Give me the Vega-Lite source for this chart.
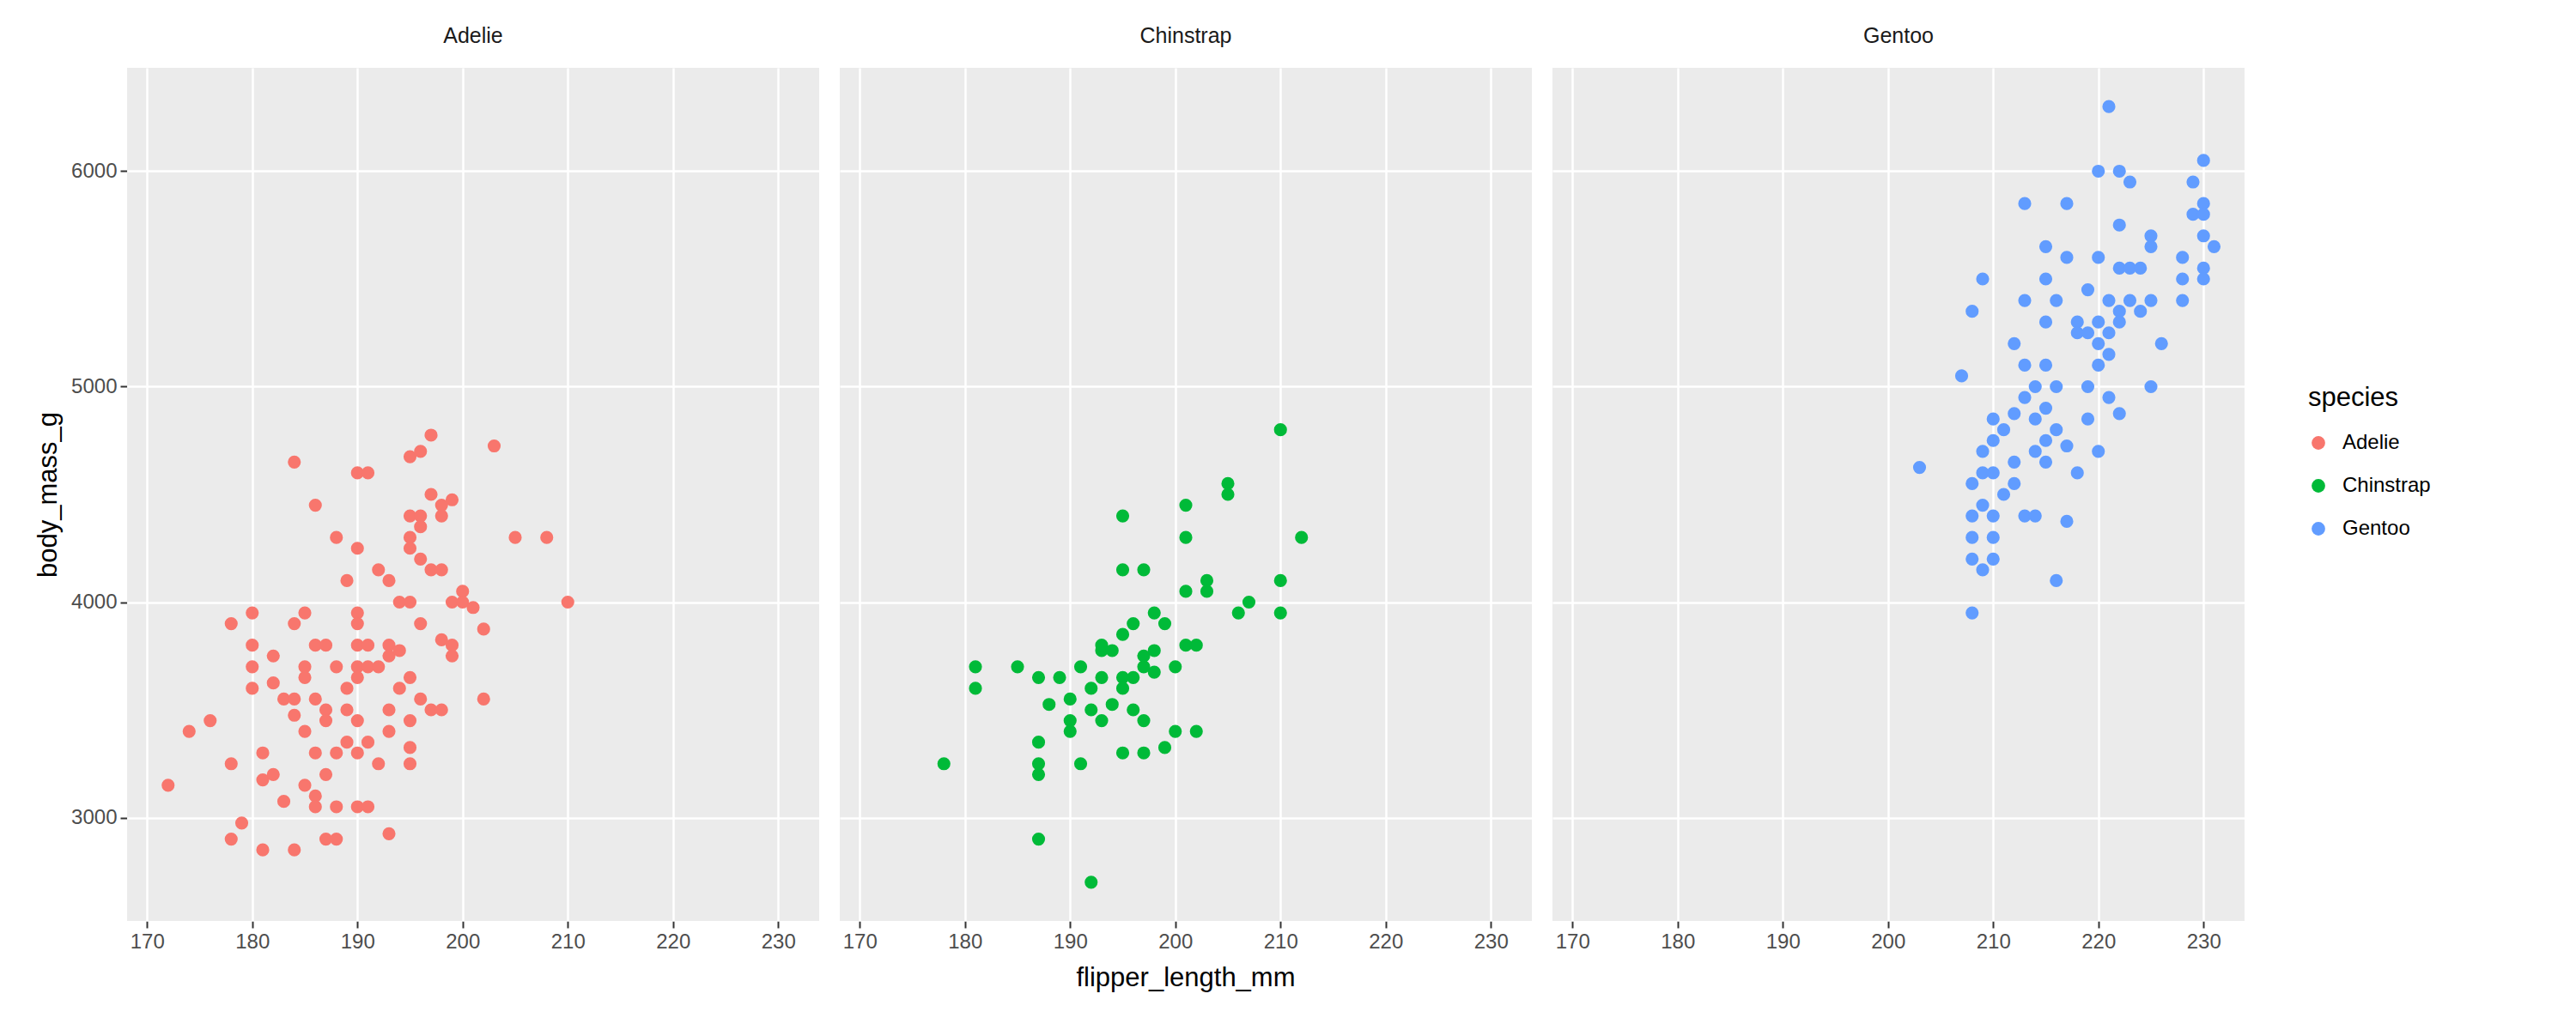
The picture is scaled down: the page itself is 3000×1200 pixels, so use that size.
{
"$schema":"https://vega.github.io/schema/vega-lite/v6.json",
"background":"white",
"padding":{"left":40,"top":30,"right":20,"bottom":10},
"config":{"font":"Liberation Sans","view":{"fill":"#EBEBEB","stroke":null},
"axis":{"gridColor":"white","gridWidth":2.5,"domain":false,"tickColor":"#333333","tickSize":8,"tickWidth":2,"labelFontSize":24,"labelColor":"#4D4D4D","titleFontSize":31,"titleFontWeight":"normal","titleColor":"black","labelPadding":4},
"legend":{"titleFontSize":31,"titleFontWeight":"normal","labelFontSize":24,"symbolSize":250,"rowPadding":26,"symbolStrokeWidth":0,"titlePadding":24,"labelOffset":16},
"facet":{"spacing":24}},
"datasets":{"d":[
{"s":"Adelie","f":172,"m":3150},{"s":"Adelie","f":174,"m":3400},{"s":"Adelie","f":176,"m":3450},{"s":"Adelie","f":178,"m":3900},{"s":"Adelie","f":178,"m":3250},{"s":"Adelie","f":178,"m":2900},{"s":"Adelie","f":179,"m":2975},{"s":"Adelie","f":180,"m":3950},{"s":"Adelie","f":180,"m":3800},{"s":"Adelie","f":180,"m":3700},{"s":"Adelie","f":180,"m":3600},{"s":"Adelie","f":181,"m":3300},{"s":"Adelie","f":181,"m":2850},{"s":"Adelie","f":181,"m":3175},{"s":"Adelie","f":182,"m":3200},{"s":"Adelie","f":182,"m":3750},{"s":"Adelie","f":182,"m":3625},{"s":"Adelie","f":183,"m":3075},{"s":"Adelie","f":183,"m":3550},{"s":"Adelie","f":184,"m":4650},{"s":"Adelie","f":184,"m":3900},{"s":"Adelie","f":184,"m":3475},{"s":"Adelie","f":184,"m":2850},{"s":"Adelie","f":184,"m":3550},{"s":"Adelie","f":185,"m":3700},{"s":"Adelie","f":185,"m":3950},{"s":"Adelie","f":185,"m":3650},{"s":"Adelie","f":185,"m":3150},{"s":"Adelie","f":185,"m":3400},{"s":"Adelie","f":186,"m":4450},{"s":"Adelie","f":186,"m":3800},{"s":"Adelie","f":186,"m":3550},{"s":"Adelie","f":186,"m":3300},{"s":"Adelie","f":186,"m":3100},{"s":"Adelie","f":186,"m":3050},{"s":"Adelie","f":187,"m":3800},{"s":"Adelie","f":187,"m":3500},{"s":"Adelie","f":187,"m":3450},{"s":"Adelie","f":187,"m":3200},{"s":"Adelie","f":187,"m":2900},{"s":"Adelie","f":188,"m":4300},{"s":"Adelie","f":188,"m":3700},{"s":"Adelie","f":188,"m":3300},{"s":"Adelie","f":188,"m":3050},{"s":"Adelie","f":188,"m":2900},{"s":"Adelie","f":189,"m":4100},{"s":"Adelie","f":189,"m":3600},{"s":"Adelie","f":189,"m":3500},{"s":"Adelie","f":189,"m":3350},{"s":"Adelie","f":190,"m":4600},{"s":"Adelie","f":190,"m":4250},{"s":"Adelie","f":190,"m":3950},{"s":"Adelie","f":190,"m":3900},{"s":"Adelie","f":190,"m":3800},{"s":"Adelie","f":190,"m":3700},{"s":"Adelie","f":190,"m":3650},{"s":"Adelie","f":190,"m":3450},{"s":"Adelie","f":190,"m":3300},{"s":"Adelie","f":190,"m":3050},{"s":"Adelie","f":191,"m":4600},{"s":"Adelie","f":191,"m":3800},{"s":"Adelie","f":191,"m":3700},{"s":"Adelie","f":191,"m":3350},{"s":"Adelie","f":191,"m":3050},{"s":"Adelie","f":192,"m":4150},{"s":"Adelie","f":192,"m":3700},{"s":"Adelie","f":192,"m":3250},{"s":"Adelie","f":193,"m":4100},{"s":"Adelie","f":193,"m":3800},{"s":"Adelie","f":193,"m":3750},{"s":"Adelie","f":193,"m":3500},{"s":"Adelie","f":193,"m":3400},{"s":"Adelie","f":193,"m":2925},{"s":"Adelie","f":194,"m":4000},{"s":"Adelie","f":194,"m":3775},{"s":"Adelie","f":194,"m":3600},{"s":"Adelie","f":195,"m":4400},{"s":"Adelie","f":195,"m":4300},{"s":"Adelie","f":195,"m":4250},{"s":"Adelie","f":195,"m":4000},{"s":"Adelie","f":195,"m":3650},{"s":"Adelie","f":195,"m":3450},{"s":"Adelie","f":195,"m":3325},{"s":"Adelie","f":195,"m":3250},{"s":"Adelie","f":195,"m":4675},{"s":"Adelie","f":196,"m":4700},{"s":"Adelie","f":196,"m":4400},{"s":"Adelie","f":196,"m":4350},{"s":"Adelie","f":196,"m":4200},{"s":"Adelie","f":196,"m":3900},{"s":"Adelie","f":196,"m":3550},{"s":"Adelie","f":197,"m":4775},{"s":"Adelie","f":197,"m":4500},{"s":"Adelie","f":197,"m":4150},{"s":"Adelie","f":197,"m":3500},{"s":"Adelie","f":198,"m":4450},{"s":"Adelie","f":198,"m":4150},{"s":"Adelie","f":198,"m":4400},{"s":"Adelie","f":198,"m":3825},{"s":"Adelie","f":198,"m":3500},{"s":"Adelie","f":199,"m":4475},{"s":"Adelie","f":199,"m":3800},{"s":"Adelie","f":199,"m":3750},{"s":"Adelie","f":199,"m":4000},{"s":"Adelie","f":200,"m":4050},{"s":"Adelie","f":200,"m":4000},{"s":"Adelie","f":201,"m":3975},{"s":"Adelie","f":202,"m":3875},{"s":"Adelie","f":202,"m":3550},{"s":"Adelie","f":203,"m":4725},{"s":"Adelie","f":205,"m":4300},{"s":"Adelie","f":208,"m":4300},{"s":"Adelie","f":210,"m":4000},
{"s":"Chinstrap","f":178,"m":3250},{"s":"Chinstrap","f":181,"m":3700},{"s":"Chinstrap","f":181,"m":3600},{"s":"Chinstrap","f":185,"m":3700},{"s":"Chinstrap","f":187,"m":3650},{"s":"Chinstrap","f":187,"m":3350},{"s":"Chinstrap","f":187,"m":3250},{"s":"Chinstrap","f":187,"m":3200},{"s":"Chinstrap","f":187,"m":2900},{"s":"Chinstrap","f":188,"m":3525},{"s":"Chinstrap","f":189,"m":3650},{"s":"Chinstrap","f":190,"m":3450},{"s":"Chinstrap","f":190,"m":3400},{"s":"Chinstrap","f":190,"m":3550},{"s":"Chinstrap","f":191,"m":3700},{"s":"Chinstrap","f":191,"m":3250},{"s":"Chinstrap","f":192,"m":3600},{"s":"Chinstrap","f":192,"m":3500},{"s":"Chinstrap","f":192,"m":2700},{"s":"Chinstrap","f":193,"m":3775},{"s":"Chinstrap","f":193,"m":3650},{"s":"Chinstrap","f":193,"m":3450},{"s":"Chinstrap","f":193,"m":3800},{"s":"Chinstrap","f":194,"m":3525},{"s":"Chinstrap","f":194,"m":3775},{"s":"Chinstrap","f":195,"m":4400},{"s":"Chinstrap","f":195,"m":4150},{"s":"Chinstrap","f":195,"m":3850},{"s":"Chinstrap","f":195,"m":3650},{"s":"Chinstrap","f":195,"m":3600},{"s":"Chinstrap","f":195,"m":3300},{"s":"Chinstrap","f":196,"m":3900},{"s":"Chinstrap","f":196,"m":3500},{"s":"Chinstrap","f":196,"m":3650},{"s":"Chinstrap","f":197,"m":4150},{"s":"Chinstrap","f":197,"m":3700},{"s":"Chinstrap","f":197,"m":3450},{"s":"Chinstrap","f":197,"m":3300},{"s":"Chinstrap","f":197,"m":3750},{"s":"Chinstrap","f":198,"m":3950},{"s":"Chinstrap","f":198,"m":3675},{"s":"Chinstrap","f":198,"m":3775},{"s":"Chinstrap","f":199,"m":3900},{"s":"Chinstrap","f":199,"m":3325},{"s":"Chinstrap","f":200,"m":3400},{"s":"Chinstrap","f":200,"m":3700},{"s":"Chinstrap","f":201,"m":4450},{"s":"Chinstrap","f":201,"m":4300},{"s":"Chinstrap","f":201,"m":4050},{"s":"Chinstrap","f":201,"m":3800},{"s":"Chinstrap","f":202,"m":3400},{"s":"Chinstrap","f":202,"m":3800},{"s":"Chinstrap","f":203,"m":4100},{"s":"Chinstrap","f":203,"m":4050},{"s":"Chinstrap","f":205,"m":4550},{"s":"Chinstrap","f":205,"m":4500},{"s":"Chinstrap","f":206,"m":3950},{"s":"Chinstrap","f":207,"m":4000},{"s":"Chinstrap","f":210,"m":4800},{"s":"Chinstrap","f":210,"m":4100},{"s":"Chinstrap","f":210,"m":3950},{"s":"Chinstrap","f":212,"m":4300},
{"s":"Gentoo","f":203,"m":4625},{"s":"Gentoo","f":207,"m":5050},{"s":"Gentoo","f":208,"m":5350},{"s":"Gentoo","f":208,"m":4550},{"s":"Gentoo","f":208,"m":4400},{"s":"Gentoo","f":208,"m":4300},{"s":"Gentoo","f":208,"m":4200},{"s":"Gentoo","f":208,"m":3950},{"s":"Gentoo","f":209,"m":5500},{"s":"Gentoo","f":209,"m":4600},{"s":"Gentoo","f":209,"m":4700},{"s":"Gentoo","f":209,"m":4450},{"s":"Gentoo","f":209,"m":4150},{"s":"Gentoo","f":210,"m":4850},{"s":"Gentoo","f":210,"m":4750},{"s":"Gentoo","f":210,"m":4600},{"s":"Gentoo","f":210,"m":4400},{"s":"Gentoo","f":210,"m":4200},{"s":"Gentoo","f":210,"m":4300},{"s":"Gentoo","f":211,"m":4800},{"s":"Gentoo","f":211,"m":4500},{"s":"Gentoo","f":212,"m":5200},{"s":"Gentoo","f":212,"m":4875},{"s":"Gentoo","f":212,"m":4650},{"s":"Gentoo","f":212,"m":4550},{"s":"Gentoo","f":213,"m":5850},{"s":"Gentoo","f":213,"m":5400},{"s":"Gentoo","f":213,"m":5100},{"s":"Gentoo","f":213,"m":4950},{"s":"Gentoo","f":213,"m":4400},{"s":"Gentoo","f":214,"m":5000},{"s":"Gentoo","f":214,"m":4850},{"s":"Gentoo","f":214,"m":4700},{"s":"Gentoo","f":214,"m":4400},{"s":"Gentoo","f":215,"m":5650},{"s":"Gentoo","f":215,"m":5500},{"s":"Gentoo","f":215,"m":5300},{"s":"Gentoo","f":215,"m":5100},{"s":"Gentoo","f":215,"m":4900},{"s":"Gentoo","f":215,"m":4750},{"s":"Gentoo","f":215,"m":4650},{"s":"Gentoo","f":216,"m":5400},{"s":"Gentoo","f":216,"m":5000},{"s":"Gentoo","f":216,"m":4800},{"s":"Gentoo","f":216,"m":4100},{"s":"Gentoo","f":217,"m":5850},{"s":"Gentoo","f":217,"m":5600},{"s":"Gentoo","f":217,"m":4375},{"s":"Gentoo","f":217,"m":4725},{"s":"Gentoo","f":218,"m":5300},{"s":"Gentoo","f":218,"m":5250},{"s":"Gentoo","f":218,"m":4600},{"s":"Gentoo","f":219,"m":5450},{"s":"Gentoo","f":219,"m":5250},{"s":"Gentoo","f":219,"m":5000},{"s":"Gentoo","f":219,"m":4850},{"s":"Gentoo","f":220,"m":6000},{"s":"Gentoo","f":220,"m":5600},{"s":"Gentoo","f":220,"m":5300},{"s":"Gentoo","f":220,"m":5200},{"s":"Gentoo","f":220,"m":5100},{"s":"Gentoo","f":220,"m":4700},{"s":"Gentoo","f":221,"m":6300},{"s":"Gentoo","f":221,"m":5400},{"s":"Gentoo","f":221,"m":5250},{"s":"Gentoo","f":221,"m":5150},{"s":"Gentoo","f":221,"m":4950},{"s":"Gentoo","f":222,"m":6000},{"s":"Gentoo","f":222,"m":5750},{"s":"Gentoo","f":222,"m":5550},{"s":"Gentoo","f":222,"m":5350},{"s":"Gentoo","f":222,"m":5300},{"s":"Gentoo","f":222,"m":4875},{"s":"Gentoo","f":223,"m":5950},{"s":"Gentoo","f":223,"m":5550},{"s":"Gentoo","f":223,"m":5400},{"s":"Gentoo","f":224,"m":5550},{"s":"Gentoo","f":224,"m":5350},{"s":"Gentoo","f":225,"m":5700},{"s":"Gentoo","f":225,"m":5400},{"s":"Gentoo","f":225,"m":5000},{"s":"Gentoo","f":225,"m":5650},{"s":"Gentoo","f":226,"m":5200},{"s":"Gentoo","f":228,"m":5600},{"s":"Gentoo","f":228,"m":5500},{"s":"Gentoo","f":228,"m":5400},{"s":"Gentoo","f":229,"m":5950},{"s":"Gentoo","f":229,"m":5800},{"s":"Gentoo","f":230,"m":6050},{"s":"Gentoo","f":230,"m":5850},{"s":"Gentoo","f":230,"m":5800},{"s":"Gentoo","f":230,"m":5700},{"s":"Gentoo","f":230,"m":5550},{"s":"Gentoo","f":230,"m":5500},{"s":"Gentoo","f":231,"m":5650}
]},
"data":{"name":"d"},
"facet":{"column":{"field":"s","type":"nominal","sort":["Adelie","Chinstrap","Gentoo"],
"header":{"title":"flipper_length_mm","titleOrient":"bottom","titleFontSize":31,"titleFontWeight":"normal","titleColor":"black","titlePadding":6,"labelOrient":"top","labelFontSize":25,"labelColor":"#1A1A1A","labelPadding":24}}},
"spec":{"width":806,"height":994,
"mark":{"type":"circle","size":230,"opacity":1},
"encoding":{
"x":{"field":"f","type":"quantitative","title":null,"scale":{"domain":[168.1,233.9],"nice":false,"zero":false},"axis":{"values":[170,180,190,200,210,220,230]}},
"y":{"field":"m","type":"quantitative","title":"body_mass_g","scale":{"domain":[2520,6480],"nice":false,"zero":false},"axis":{"values":[3000,4000,5000,6000],"format":"d","titlePadding":10}},
"color":{"field":"s","type":"nominal","title":"species","scale":{"domain":["Adelie","Chinstrap","Gentoo"],"range":["#F8766D","#00BA38","#619CFF"]},"legend":{"orient":"none","legendX":2540,"legendY":370}}}}
}
